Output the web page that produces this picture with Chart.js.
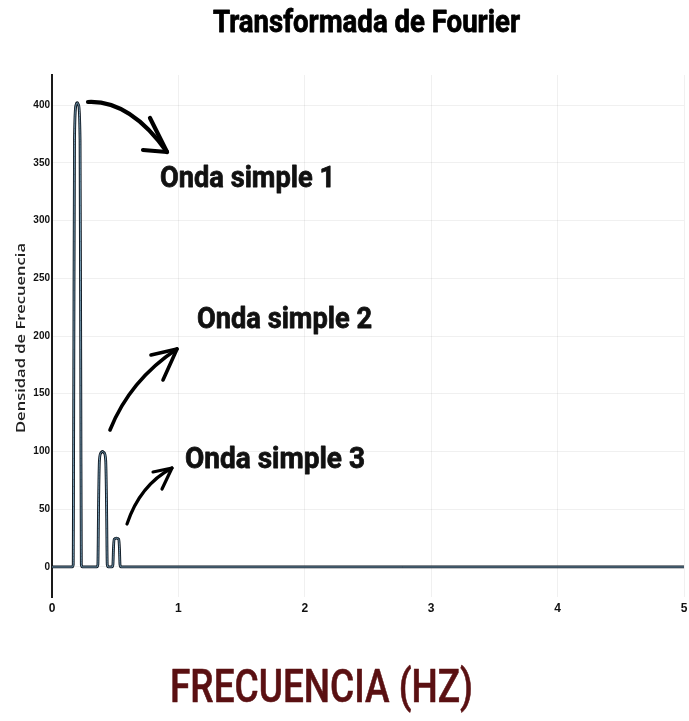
<!DOCTYPE html>
<html>
<head>
<meta charset="utf-8">
<script src="https://cdn.jsdelivr.net/npm/chart.js@4"></script>
<style>
html,body{margin:0;padding:0;background:#fff;}
#wrap{width:689px;height:721px;position:relative;}
</style>
</head>
<body>
<div id="wrap"><canvas id="c" width="689" height="721"></canvas></div>
<script>
// ---- data ----
const freqHz = [0,
  0.160, 0.168, 0.172, 0.178, 0.190, 0.200, 0.210, 0.222, 0.228, 0.232, 0.240,
  0.355, 0.363, 0.368, 0.375, 0.388, 0.400, 0.412, 0.425, 0.432, 0.437, 0.445,
  0.475, 0.482, 0.486, 0.492, 0.510, 0.528, 0.534, 0.538, 0.545,
  5];
const densidad = [0,
  0, 2, 150, 370, 400, 402, 400, 370, 150, 2, 0,
  0, 2, 50, 92, 99, 100, 99, 92, 50, 2, 0,
  0, 2, 15, 24, 25, 24, 15, 2, 0,
  0];
const xTicks = [0, 1, 2, 3, 4, 5];
const yTicks = [0, 50, 100, 150, 200, 250, 300, 350, 400];
const titleText = 'Transformada de Fourier';
const xTitle = 'FRECUENCIA (HZ)';
const yTitle = 'Densidad de Frecuencia';
const notes = ['Onda simple 1', 'Onda simple 2', 'Onda simple 3'];

const points = freqHz.map((x, i) => ({x: x, y: densidad[i]}));

function fitText(ctx, text, left, baseline, width, size, weight, family, color, stroke) {
  ctx.save();
  ctx.font = weight + ' ' + size + 'px ' + family;
  const w = ctx.measureText(text).width;
  ctx.translate(left, baseline);
  ctx.scale(width / w, 1);
  ctx.fillStyle = color;
  ctx.textAlign = 'left';
  ctx.textBaseline = 'alphabetic';
  ctx.fillText(text, 0, 0);
  if (stroke) {
    ctx.strokeStyle = color;
    ctx.lineWidth = stroke;
    ctx.lineJoin = 'round';
    ctx.strokeText(text, 0, 0);
  }
  ctx.restore();
}

function arrow(ctx, p0, c, p1, h1, h2, lw) {
  ctx.save();
  ctx.strokeStyle = '#000';
  ctx.lineCap = 'round';
  ctx.lineJoin = 'round';
  ctx.lineWidth = lw;
  ctx.beginPath();
  ctx.moveTo(p0[0], p0[1]);
  ctx.quadraticCurveTo(c[0], c[1], p1[0], p1[1]);
  ctx.stroke();
  ctx.beginPath();
  ctx.moveTo(h1[0], h1[1]);
  ctx.lineTo(p1[0], p1[1]);
  ctx.lineTo(h2[0], h2[1]);
  ctx.stroke();
  ctx.restore();
}

const textPlugin = {
  id: 'texts',
  afterDraw(chart) {
    const ctx = chart.ctx;
    const fam = 'Roboto, "Liberation Sans", sans-serif';
    fitText(ctx, titleText, 213, 32, 307, 31, 'bold', fam, '#000', 0.8);
    fitText(ctx, notes[0], 160, 187, 175, 30, 'bold', fam, '#111', 0.8);
    fitText(ctx, notes[1], 197, 328, 175, 30, 'bold', fam, '#111', 0.8);
    fitText(ctx, notes[2], 185, 468, 180, 30, 'bold', fam, '#111', 0.8);
    fitText(ctx, xTitle, 170, 702, 303, 47, '500', fam, '#5a1012', 0.6);
    // y axis title
    ctx.save();
    ctx.translate(25, 338);
    ctx.rotate(-Math.PI / 2);
    ctx.font = '600 12px "Open Sans", sans-serif';
    const w = ctx.measureText(yTitle).width;
    ctx.scale(190 / w, 1);
    ctx.fillStyle = '#222';
    ctx.textAlign = 'center';
    ctx.textBaseline = 'alphabetic';
    ctx.fillText(yTitle, 0, 0);
    ctx.restore();
    // hand-drawn arrows
    arrow(ctx, [88, 102], [130, 100], [167, 152], [150, 118], [143, 150], 4.2);
    arrow(ctx, [110, 430], [130, 380], [177, 349], [151, 355], [163, 380], 3.6);
    arrow(ctx, [127, 524], [140, 485], [172, 468], [153, 472], [162, 489], 3.2);
  }
};

new Chart(document.getElementById('c'), {
  type: 'line',
  data: {
    datasets: [
      {
        data: points,
        borderColor: 'rgba(140,185,210,0.9)',
        borderWidth: 0.9,
        pointRadius: 0,
        cubicInterpolationMode: 'monotone',
        fill: false,
        order: 0
      },
      {
        data: points,
        borderColor: '#0a131d',
        borderWidth: 2.8,
        pointRadius: 0,
        cubicInterpolationMode: 'monotone',
        fill: false,
        order: 1
      }
    ]
  },
  options: {
    responsive: false,
    animation: false,
    devicePixelRatio: 1,
    layout: {padding: {left: 0, right: 5, top: 75, bottom: 100}},
    plugins: {legend: {display: false}, title: {display: false}, tooltip: {enabled: false}},
    scales: {
      x: {
        type: 'linear',
        min: 0,
        max: 5,
        afterBuildTicks: (s) => { s.ticks = xTicks.map(v => ({value: v})); },
        afterFit: (s) => { s.height = 24; s.paddingRight = 0; s.paddingLeft = 0; },
        border: {display: false},
        grid: {color: 'rgba(0,0,0,0.06)', drawTicks: false},
        ticks: {
          padding: 4,
          maxRotation: 0,
          color: '#111',
          font: {family: '"Liberation Sans Narrow", "Liberation Sans", sans-serif', size: 12, weight: 'bold'}
        }
      },
      y: {
        min: -26,
        max: 426,
        afterBuildTicks: (s) => { s.ticks = yTicks.map(v => ({value: v})); },
        afterFit: (s) => { s.width = 52; s.paddingTop = 0; s.paddingBottom = 0; },
        border: {display: true, color: '#1a1a1a', width: 2},
        grid: {color: 'rgba(0,0,0,0.06)', drawTicks: false},
        ticks: {
          padding: 2,
          color: '#111',
          font: {family: '"Liberation Sans Narrow", "Liberation Sans", sans-serif', size: 10, weight: 'bold'}
        }
      }
    }
  },
  plugins: [textPlugin]
});
</script>
</body>
</html>
